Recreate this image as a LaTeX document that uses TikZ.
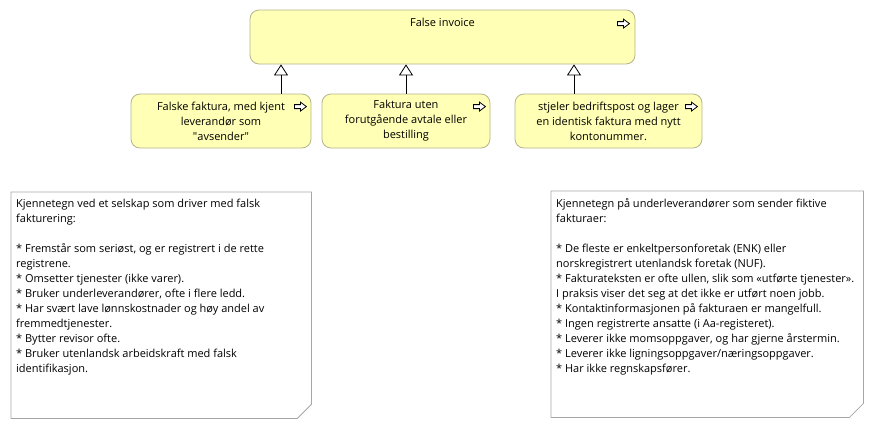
\documentclass[tikz,border=0pt]{standalone}
\usepackage{fontspec}
\setmainfont{Open Sans}
\usetikzlibrary{arrows.meta}
\definecolor{evfill}{HTML}{FFFFB5}
\definecolor{evline}{HTML}{B4B48C}
\definecolor{noteline}{HTML}{A6A6A6}
\tikzset{procarrow/.pic={\draw[line width=.8pt, fill=white] (-6,-2) -- (0,-2) -- (0,-4.5) -- (6,0) -- (0,4.5) -- (0,2) -- (-6,2) -- cycle;}}
\begin{document}
\begin{tikzpicture}[x=1pt, y=-1pt, font=\fontsize{11}{15}\selectfont,
  event/.style={draw=evline, fill=evfill, rounded corners=9pt, line width=.8pt, inner sep=0pt, align=center, minimum height=54pt},
  spec/.style={-{Triangle[open, length=11pt, width=14pt]}, line width=.8pt},
  note/.style={inner sep=0pt, anchor=north west, minimum height=226pt},
  noteedge/.style={draw=noteline, line width=.8pt},
  notetext/.style={anchor=north west, align=left, inner sep=0pt}]
\useasboundingbox (0,0) rectangle (873,429);

% top event
\node[event, minimum width=385pt] (inv) at (442.5,37) {};
\node[anchor=north, inner sep=0pt] (invlabel) at ([yshift=-8pt]inv.north) {False invoice};
\pic at ([shift={(-12,14)}]inv.north east) {procarrow};

% specialisations
\node[event, minimum width=180pt] (fake) at (221,121) {Falske faktura, med kjent\\leverandør som\\\textquotedbl avsender\textquotedbl};
\node[event, minimum width=168pt] (noorder) at (406,121) {Faktura uten\\forutgående avtale eller\\bestilling};
\node[event, minimum width=187pt] (stolen) at (608.5,121) {stjeler bedriftspost og lager\\en identisk faktura med nytt\\kontonummer.};
\pic at ([shift={(-11,13)}]fake.north east) {procarrow};
\pic at ([shift={(-11,13)}]noorder.north east) {procarrow};
\pic at ([shift={(-11,13)}]stolen.north east) {procarrow};

\draw[spec] ([xshift=60pt]fake.north) -- ([xshift=60pt]fake.north |- inv.south);
\draw[spec] (noorder.north) -- (noorder.north |- inv.south);
\draw[spec] ([xshift=-34.5pt]stolen.north) -- ([xshift=-34.5pt]stolen.north |- inv.south);

% notes
\node[note, minimum width=300pt] (firm) at (11,192) {};
\draw[noteedge] (firm.north west) -- (firm.north east) -- ([yshift=14pt]firm.south east) -- ([xshift=-14pt]firm.south east) -- (firm.south west) -- cycle;
\node[notetext] (firmtext) at ([shift={(5,7)}]firm.north west) {Kjennetegn ved et selskap som driver med falsk\\
fakturering:\\[15pt]
* Fremstår som seriøst, og er registrert i de rette\\
registrene.\\
* Omsetter tjenester (ikke varer).\\
* Bruker underleverandører, ofte i flere ledd.\\
* Har svært lave lønnskostnader og høy andel av\\
fremmedtjenester.\\
* Bytter revisor ofte.\\
* Bruker utenlandsk arbeidskraft med falsk\\
identifikasjon.};

\node[note, minimum width=312pt] (supplier) at (551,191) {};
\draw[noteedge] (supplier.north west) -- (supplier.north east) -- ([yshift=14pt]supplier.south east) -- ([xshift=-14pt]supplier.south east) -- (supplier.south west) -- cycle;
\node[notetext] (suppliertext) at ([shift={(5,7)}]supplier.north west) {Kjennetegn på underleverandører som sender fiktive\\
fakturaer:\\[15pt]
* De fleste er enkeltpersonforetak (ENK) eller\\
norskregistrert utenlandsk foretak (NUF).\\
* Fakturateksten er ofte ullen, slik som «utførte tjenester».\\
I praksis viser det seg at det ikke er utført noen jobb.\\
* Kontaktinformasjonen på fakturaen er mangelfull.\\
* Ingen registrerte ansatte (i Aa-registeret).\\
* Leverer ikke momsoppgaver, og har gjerne årstermin.\\
* Leverer ikke ligningsoppgaver/næringsoppgaver.\\
* Har ikke regnskapsfører.};
\end{tikzpicture}
\end{document}
